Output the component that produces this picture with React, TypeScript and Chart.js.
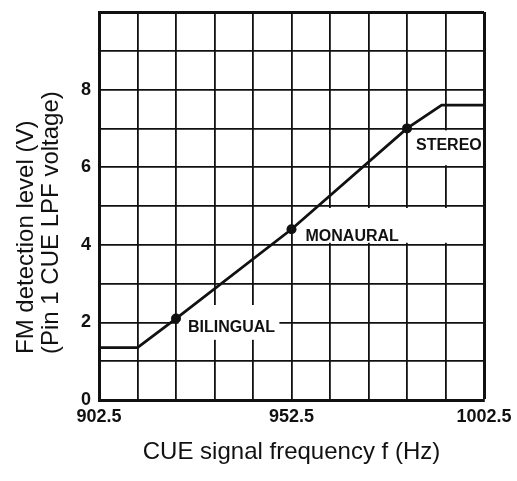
import React, { useEffect, useRef } from "react";
import { Chart, registerables } from "chart.js";

Chart.register(...registerables);

// ---- data ----
const curveFreq = [902.5, 912.5, 922.5, 952.5, 982.5, 991.5, 1002.5];
const curveLevel = [1.35, 1.35, 2.1, 4.4, 7.0, 7.6, 7.6];
const markFreq = [922.5, 952.5, 982.5];
const markLevel = [2.1, 4.4, 7.0];
const markNames = ["BILINGUAL", "MONAURAL", "STEREO"];
const xTickLabels = ["902.5", "952.5", "1002.5"];
const yTickLabels = ["0", "2", "4", "6", "8"];
const xTitle = "CUE signal frequency f (Hz)";
const yTitleLines = ["FM detection level (V)", "(Pin 1 CUE LPF voltage)"];

// ---- styles ----
const INK = "#111";
const FONT = "'Liberation Sans', Arial, Helvetica, sans-serif";
const markLabelStyle = [
  { dx: 12, dy: 9, box: { x0: 922.5, x1: 950, y0: 1.5, y1: 2.5 } },
  { dx: 14, dy: 7, box: { x0: 952.5, x1: 1002.5, y0: 4, y1: 5 } },
  { dx: 9, dy: 17, box: { x0: 982.5, x1: 1002.5, y0: 6, y1: 7 } },
];

const labelPlugin = {
  id: "markLabels",
  beforeDatasetsDraw(chart: any) {
    const { ctx, scales } = chart;
    const xs = scales.x;
    const ys = scales.y;
    ctx.save();
    markNames.forEach((name, i) => {
      const st = markLabelStyle[i];
      const bx0 = xs.getPixelForValue(st.box.x0) + 2.5;
      const bx1 = xs.getPixelForValue(st.box.x1) - 2.5;
      const by0 = ys.getPixelForValue(st.box.y1) + 2;
      const by1 = ys.getPixelForValue(st.box.y0) - 2;
      ctx.fillStyle = "#fff";
      ctx.fillRect(bx0, by0, bx1 - bx0, by1 - by0);
      const px = xs.getPixelForValue(markFreq[i]);
      const py = ys.getPixelForValue(markLevel[i]);
      ctx.fillStyle = INK;
      ctx.font = `bold 16px ${FONT}`;
      ctx.textAlign = "left";
      ctx.textBaseline = "middle";
      ctx.fillText(name, px + st.dx, py + st.dy);
    });
    ctx.restore();
  },
  afterDraw(chart: any) {
    const { ctx } = chart;
    ctx.save();
    ctx.fillStyle = INK;
    ctx.font = `24px ${FONT}`;
    ctx.textAlign = "left";
    ctx.textBaseline = "alphabetic";
    yTitleLines.forEach((line, i) => {
      ctx.save();
      ctx.translate(33 + 25 * i, 354);
      ctx.rotate(-Math.PI / 2);
      ctx.fillText(line, 0, 0);
      ctx.restore();
    });
    ctx.restore();
  },
};

export default function App() {
  const ref = useRef<HTMLCanvasElement>(null);
  useEffect(() => {
    if (!ref.current) return;
    Chart.defaults.font.family = FONT;
    const chart = new Chart(ref.current, {
      type: "line",
      data: {
        datasets: [
          {
            data: curveFreq.map((x, i) => ({ x, y: curveLevel[i] })),
            borderColor: INK,
            borderWidth: 2.8,
            pointRadius: 0,
            tension: 0,
            fill: false,
          },
          {
            data: markFreq.map((x, i) => ({ x, y: markLevel[i] })),
            showLine: false,
            pointRadius: 5,
            pointBackgroundColor: INK,
            pointBorderWidth: 0,
            borderColor: INK,
          },
        ],
      },
      options: {
        responsive: false,
        animation: false,
        layout: { padding: { top: 12, right: 33, bottom: 0, left: 0 } },
        plugins: { legend: { display: false }, tooltip: { enabled: false } },
        scales: {
          x: {
            type: "linear",
            min: 902.5,
            max: 1002.5,
            afterFit: (s: any) => {
              s.height = 81;
              s.paddingLeft = 0;
              s.paddingRight = 0;
            },
            ticks: {
              stepSize: 10,
              autoSkip: false,
              maxRotation: 0,
              padding: 6,
              color: INK,
              font: { size: 18, weight: "bold" },
              callback: (v: any) => {
                const s = xTickLabels.find((l) => Math.abs(parseFloat(l) - Number(v)) < 1e-6);
                return s ?? "";
              },
            },
            grid: {
              color: INK,
              drawTicks: false,
              lineWidth: (c: any) => (c.tick && Math.abs(c.tick.value - 1002.5) < 1e-6 ? 3 : 1.8),
            },
            border: { display: true, color: INK, width: 3 },
            title: {
              display: true,
              text: xTitle,
              color: INK,
              font: { size: 24, lineHeight: 1.2 },
              padding: { top: 0, bottom: 14 },
            },
          },
          y: {
            type: "linear",
            min: 0,
            max: 10,
            afterFit: (s: any) => {
              s.width = 99;
              s.paddingTop = 0;
              s.paddingBottom = 0;
            },
            ticks: {
              stepSize: 1,
              padding: 8,
              color: INK,
              font: { size: 18, weight: "bold" },
              callback: (v: any) => (yTickLabels.includes(String(v)) ? String(v) : ""),
            },
            grid: {
              color: INK,
              drawTicks: false,
              lineWidth: (c: any) => (c.tick && c.tick.value === 10 ? 3 : 1.8),
            },
            border: { display: true, color: INK, width: 3 },
          },
        },
      },
      plugins: [labelPlugin],
    } as any);
    return () => chart.destroy();
  }, []);
  return (
    <div style={{ position: "fixed", left: 0, top: 0, width: 517, height: 481, background: "#fff" }}>
      <canvas ref={ref} width={517} height={481} style={{ display: "block" }} />
    </div>
  );
}
